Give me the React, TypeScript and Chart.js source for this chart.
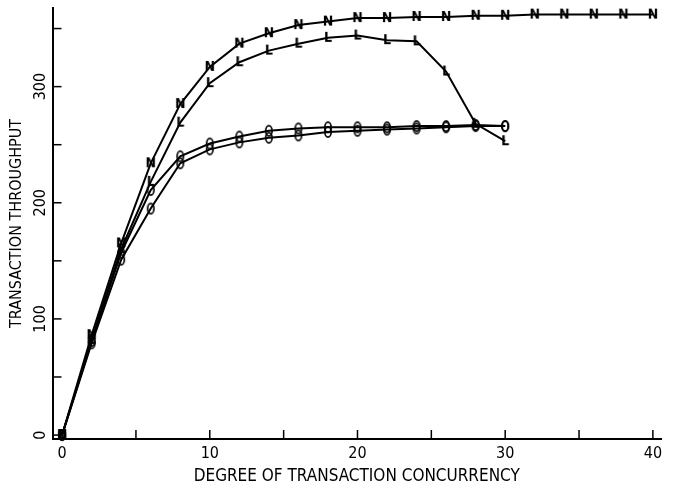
import React, { useEffect, useRef } from 'react';
import { Chart, registerables } from 'chart.js';

Chart.register(...registerables);

// ---- data ----
const concurrency = [0, 2, 4, 6, 8, 10, 12, 14, 16, 18, 20, 22, 24, 26, 28, 30, 32, 34, 36, 38, 40];
const seriesN = [0, 86, 165, 234, 285, 317, 337, 346, 353, 356, 359, 359, 360, 360, 361, 361, 362, 362, 362, 362, 362];
const seriesL = [0, 82, 160, 218, 269, 303, 321, 331, 337, 342, 344, 340, 339, 313, 268, 253];
const seriesO1 = [0, 81, 157, 211, 240, 251, 257, 262, 264, 265, 265, 265, 266, 266, 267, 266];
const seriesO2 = [0, 79, 151, 195, 234, 246, 252, 256, 258, 261, 262, 263, 264, 265, 266, 266];
const xTickValues = [0, 5, 10, 15, 20, 25, 30, 35, 40];
const xTickLabels = ['0', '', '10', '', '20', '', '30', '', '40'];
const yTickValues = [0, 50, 100, 150, 200, 250, 300, 350];
const yTickLabels = ['0', '', '100', '', '200', '', '300', ''];
const xTitle = 'DEGREE OF TRANSACTION CONCURRENCY';
const yTitle = 'TRANSACTION THROUGHPUT';

const FONT = '"Liberation Sans Narrow", "DejaVu Sans Condensed", "Liberation Sans", Arial, sans-serif';

function glyphMarker(ch: string): HTMLCanvasElement {
  const c = document.createElement('canvas');
  c.width = 14;
  c.height = 14;
  const ctx = c.getContext('2d')!;
  ctx.fillStyle = '#000';
  ctx.font = 'bold 14px ' + FONT;
  ctx.textAlign = 'center';
  ctx.textBaseline = 'middle';
  ctx.fillText(ch, 7, 7.5);
  return c;
}

function ovalMarker(): HTMLCanvasElement {
  const c = document.createElement('canvas');
  c.width = 12;
  c.height = 14;
  const ctx = c.getContext('2d')!;
  ctx.strokeStyle = '#000';
  ctx.lineWidth = 1.7;
  ctx.beginPath();
  ctx.ellipse(6, 7, 3.2, 5.2, 0, 0, Math.PI * 2);
  ctx.stroke();
  return c;
}

function pts(vals: number[]) {
  return vals.map((v, i) => ({ x: concurrency[i], y: v }));
}

const axisTicks = {
  id: 'axisTicks',
  afterDraw(chart: any) {
    const { ctx, chartArea } = chart;
    const xs = chart.scales.x;
    const ys = chart.scales.y;
    ctx.save();
    ctx.strokeStyle = '#000';
    ctx.lineWidth = 1.5;
    xTickValues.forEach((v) => {
      const px = xs.getPixelForValue(v);
      ctx.beginPath();
      ctx.moveTo(px, chartArea.bottom);
      ctx.lineTo(px, chartArea.bottom - 9);
      ctx.stroke();
    });
    yTickValues.forEach((v) => {
      const py = ys.getPixelForValue(v);
      ctx.beginPath();
      ctx.moveTo(chartArea.left, py);
      ctx.lineTo(chartArea.left + 9, py);
      ctx.stroke();
    });
    ctx.fillStyle = '#000';
    ctx.font = '16px ' + FONT;
    ctx.textAlign = 'center';
    ctx.textBaseline = 'middle';
    yTickValues.forEach((v, i) => {
      const lab = yTickLabels[i];
      if (!lab) return;
      const py = ys.getPixelForValue(v);
      ctx.save();
      ctx.translate(chartArea.left - 12, py);
      ctx.rotate(-Math.PI / 2);
      ctx.fillText(lab, 0, 0);
      ctx.restore();
    });
    ctx.restore();
  },
};

export default function App() {
  const ref = useRef<HTMLCanvasElement>(null);
  useEffect(() => {
    if (!ref.current) return;
    const mN = glyphMarker('N');
    const mL = glyphMarker('L');
    const mO = ovalMarker();
    const mk = (label: string, vals: number[], marker: HTMLCanvasElement) => ({
      label,
      data: pts(vals),
      borderColor: '#000',
      backgroundColor: '#000',
      borderWidth: 2,
      pointStyle: marker,
      pointRadius: 6,
      tension: 0,
      clip: false as any,
    });
    const chart = new Chart(ref.current, {
      type: 'line',
      data: {
        datasets: [
          mk('N', seriesN, mN),
          mk('L', seriesL, mL),
          mk('O1', seriesO1, mO),
          mk('O2', seriesO2, mO),
        ],
      },
      options: {
        animation: false,
        responsive: false,
        devicePixelRatio: 1,
        layout: { padding: { top: 6, right: 21, left: 0, bottom: 0 } },
        plugins: { legend: { display: false }, tooltip: { enabled: false } },
        scales: {
          x: {
            type: 'linear',
            min: -0.65,
            max: 40.55,
            grid: { display: false },
            border: { display: true, color: '#000', width: 2 },
            afterBuildTicks: (s: any) => {
              s.ticks = xTickValues.map((value) => ({ value }));
            },
            afterFit: (s: any) => {
              s.height = 52;
            },
            ticks: {
              autoSkip: false,
              maxRotation: 0,
              color: '#000',
              padding: -3,
              font: { family: FONT, size: 16 },
              callback: (_v: any, i: number) => xTickLabels[i],
            },
            title: {
              display: true,
              text: xTitle,
              color: '#000',
              font: { family: FONT, size: 17, lineHeight: 1 },
              padding: { top: 0, bottom: 6 },
            },
          },
          y: {
            type: 'linear',
            min: -3.4,
            max: 367.7,
            grid: { display: false },
            border: { display: true, color: '#000', width: 2 },
            afterBuildTicks: (s: any) => {
              s.ticks = yTickValues.map((value) => ({ value }));
            },
            afterFit: (s: any) => {
              s.width = 52.5;
            },
            ticks: { display: false },
            title: {
              display: true,
              text: yTitle,
              color: '#000',
              font: { family: FONT, size: 16, lineHeight: 1 },
              padding: { top: 9, bottom: 0 },
            },
          },
        },
      },
      plugins: [axisTicks],
    });
    return () => chart.destroy();
  }, []);
  return (
    <div style={{ position: 'fixed', left: 0, top: 0, width: 682, height: 491, background: '#fff' }}>
      <canvas ref={ref} width={682} height={491} />
    </div>
  );
}
